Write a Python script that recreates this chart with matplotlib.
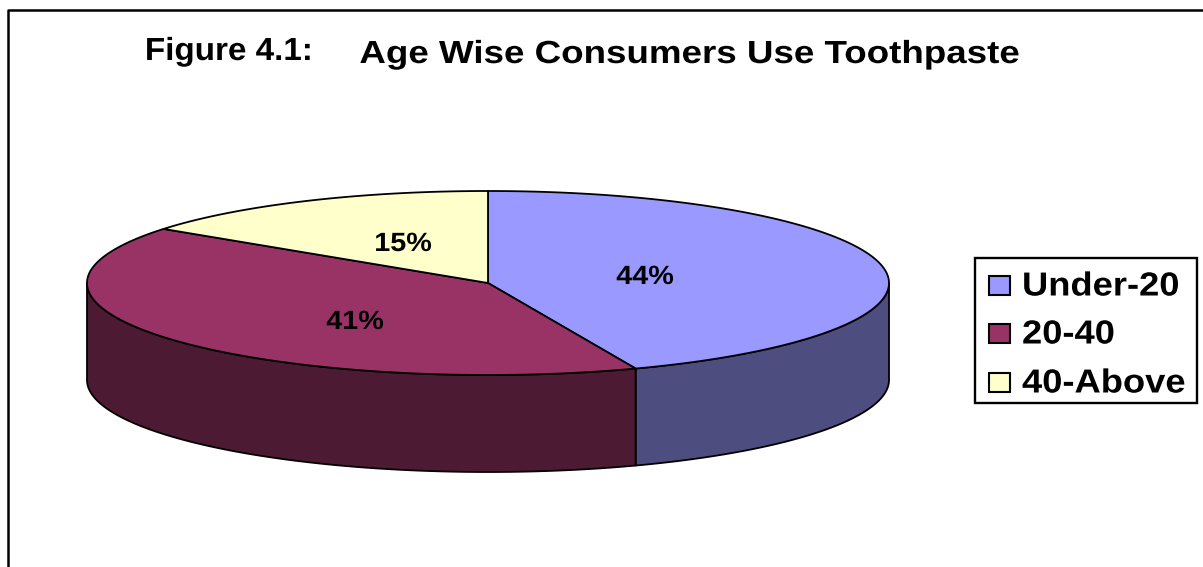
import numpy as np
import matplotlib
matplotlib.use('Agg')
import matplotlib.pyplot as plt
from matplotlib.patches import Polygon, Rectangle
from matplotlib.patheffects import AbstractPathEffect
from matplotlib.transforms import Affine2D

labels = ['Under-20', '20-40', '40-Above']
values = [44, 41, 15]
top_colors = ['#9999FF', '#993366', '#FFFFCC']
side_colors = ['#4D4D80', '#4D1A33', '#808066']

# pie geometry in picture pixels
cx, cy = 488, 283
rx, ry = 401, 92
depth = 97

plt.rcParams['font.family'] = ['Liberation Sans', 'DejaVu Sans']


# the reference text is Arial stretched sideways, so widen the glyphs around x0
class Widen(AbstractPathEffect):
    def __init__(self, x0, sx):
        super().__init__()
        self.x0 = x0
        self.sx = sx

    def draw_path(self, renderer, gc, tpath, affine, rgbFace=None):
        wide = affine + Affine2D().translate(-self.x0, 0).scale(self.sx, 1).translate(self.x0, 0)
        renderer.draw_path(gc, tpath, wide, rgbFace)


fig = plt.figure(figsize=(12.03, 5.67), dpi=100, facecolor='white')
ax = fig.add_axes([0, 0, 1, 1])
ax.set_xlim(0, 1203)
ax.set_ylim(567, 0)
ax.axis('off')

# outer frame, cut off at the bottom of the picture
ax.plot([8, 8, 1203], [570, 10, 10], color='black', lw=1.8, solid_capstyle='butt')


def rim(a0, a1):
    # angles clockwise from 12 o'clock, in degrees
    t = np.radians(np.linspace(a0, a1, 200))
    return cx + rx * np.sin(t), cy - ry * np.cos(t)


edges = np.cumsum([0] + values) * 3.6

# side walls, only the front half (90..270 deg) can be seen
for i in range(len(values)):
    a0, a1 = max(edges[i], 90), min(edges[i + 1], 270)
    if a1 <= a0:
        continue
    x, y = rim(a0, a1)
    pts = np.column_stack([np.r_[x, x[::-1]], np.r_[y, y[::-1] + depth]])
    ax.add_patch(Polygon(pts, closed=True, facecolor=side_colors[i],
                         edgecolor='black', lw=1.3, joinstyle='round'))

# top slices
for i in range(len(values)):
    x, y = rim(edges[i], edges[i + 1])
    pts = np.column_stack([np.r_[cx, x], np.r_[cy, y]])
    ax.add_patch(Polygon(pts, closed=True, facecolor=top_colors[i],
                         edgecolor='black', lw=1.3, joinstyle='round'))

# value labels
pct_pos = [(645, 277), (355, 322), (403, 244)]
for v, (px, py) in zip(values, pct_pos):
    ax.text(px, py, f'{v}%', fontsize=19, fontweight='bold', ha='center', va='center',
            color='black', path_effects=[Widen(px, 1.09)])

# titles
ax.text(229, 52, 'Figure 4.1:', fontsize=23, fontweight='bold', ha='center', va='center',
        path_effects=[Widen(229, 1.04)])
ax.text(690, 55, 'Age Wise Consumers Use Toothpaste', fontsize=23, fontweight='bold',
        ha='center', va='center', path_effects=[Widen(690, 1.15)])

# legend box
ax.add_patch(Rectangle((975, 258), 222, 145, facecolor='white', edgecolor='black', lw=1.7))
leg_y = [286, 334, 383]
for lab, col, ly in zip(labels, top_colors, leg_y):
    ax.add_patch(Rectangle((989, ly - 10), 21, 19, facecolor=col, edgecolor='black', lw=1.5))
    ax.text(1022, ly + 1, lab, fontsize=24, fontweight='bold', ha='left', va='center',
            path_effects=[Widen(1022, 1.09)])

fig.savefig('out.png', dpi=100, facecolor='white')
